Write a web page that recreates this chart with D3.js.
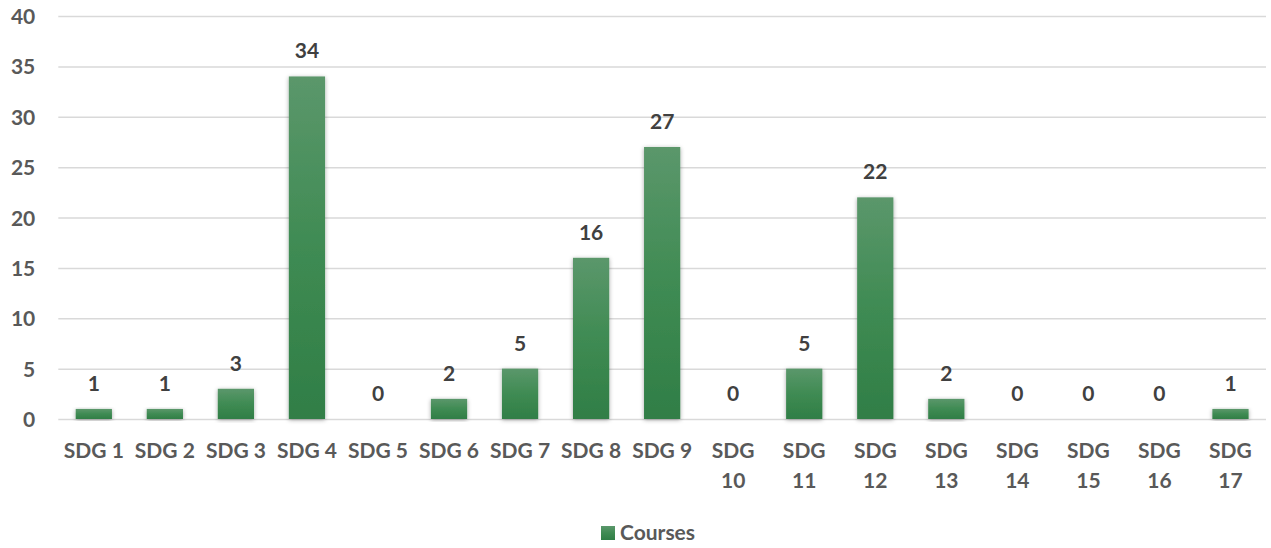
<!DOCTYPE html>
<html>
<head>
<meta charset="utf-8">
<script src="https://cdn.jsdelivr.net/npm/d3@7"></script>
<style>
  html, body { margin: 0; padding: 0; background: #fff; }
  svg { display: block; font-family: Lato, "Open Sans", sans-serif; font-weight: bold; }
</style>
</head>
<body>
<svg id="chart" width="1271" height="548"></svg>
<script>
const categories = ["SDG 1","SDG 2","SDG 3","SDG 4","SDG 5","SDG 6","SDG 7","SDG 8","SDG 9","SDG 10","SDG 11","SDG 12","SDG 13","SDG 14","SDG 15","SDG 16","SDG 17"];
const courses = [1,1,3,34,0,2,5,16,27,0,5,22,2,0,0,0,1];
const yTicks = [0,5,10,15,20,25,30,35,40];
const seriesName = "Courses";

const svg = d3.select("#chart");
const plotLeft = 58.3, plotRight = 1266, plotTop = 16, plotBottom = 419;
const fs = 21;

const x = d3.scaleBand().domain(categories).range([plotLeft, plotRight]).paddingInner(0.49).paddingOuter(0.245);
const y = d3.scaleLinear().domain([0, 40]).range([plotBottom, plotTop]);

const defs = svg.append("defs");
const grad = defs.append("linearGradient").attr("id", "barGrad").attr("x1", 0).attr("y1", 0).attr("x2", 0).attr("y2", 1);
grad.append("stop").attr("offset", "0%").attr("stop-color", "#5b976b");
grad.append("stop").attr("offset", "50%").attr("stop-color", "#3f8b53");
grad.append("stop").attr("offset", "100%").attr("stop-color", "#307e46");
const f = defs.append("filter").attr("id", "shadow").attr("x", "-30%").attr("y", "-10%").attr("width", "160%").attr("height", "120%");
f.append("feDropShadow").attr("dx", 0).attr("dy", 1).attr("stdDeviation", 2.2).attr("flood-color", "#000").attr("flood-opacity", 0.35);

// gridlines
const yAxis = d3.axisLeft(y).tickValues(yTicks).tickSize(-(plotRight - plotLeft)).tickPadding(23);
const gy = svg.append("g").attr("transform", `translate(${plotLeft},0)`).call(yAxis);
gy.select(".domain").remove();
gy.selectAll(".tick line").attr("stroke", "#d9d9d9").attr("stroke-width", 1.5);
gy.selectAll(".tick text").attr("fill", "#595959").attr("font-size", fs).attr("font-family", "Lato, sans-serif").attr("font-weight", "bold").attr("dy", "0.36em");

// bars
svg.append("g").selectAll("rect").data(categories).join("rect")
  .attr("x", d => x(d))
  .attr("width", x.bandwidth())
  .attr("y", (d, i) => y(courses[i]))
  .attr("height", (d, i) => y(0) - y(courses[i]))
  .attr("fill", "url(#barGrad)")
  .attr("filter", "url(#shadow)");

// value labels
svg.append("g").selectAll("text").data(categories).join("text")
  .attr("x", d => x(d) + x.bandwidth() / 2)
  .attr("y", (d, i) => y(courses[i]) - 18)
  .attr("text-anchor", "middle")
  .attr("fill", "#404040")
  .attr("font-size", fs)
  .text((d, i) => courses[i]);

// x axis labels
const xAxis = d3.axisBottom(x).tickSize(0).tickPadding(0);
const gx = svg.append("g").attr("transform", `translate(0,${plotBottom})`).call(xAxis);
gx.select(".domain").remove();
gx.selectAll(".tick text").each(function(d) {
  const t = d3.select(this);
  t.text(null).attr("fill", "#595959").attr("font-size", fs).attr("font-family", "Lato, sans-serif").attr("font-weight", "bold").attr("dy", null).attr("y", 39);
  const parts = d.split(" ");
  if (+parts[1] >= 10) {
    t.append("tspan").attr("x", 0).attr("dy", 0).text(parts[0]);
    t.append("tspan").attr("x", 0).attr("dy", 30).text(parts[1]);
  } else {
    t.append("tspan").attr("x", 0).text(d);
  }
});

// legend
const lg = svg.append("g");
lg.append("rect").attr("x", 601).attr("y", 526).attr("width", 14).attr("height", 14).attr("fill", "url(#barGrad)");
lg.append("text").attr("x", 620).attr("y", 540).attr("fill", "#595959").attr("font-size", fs).text(seriesName);
</script>
</body>
</html>
